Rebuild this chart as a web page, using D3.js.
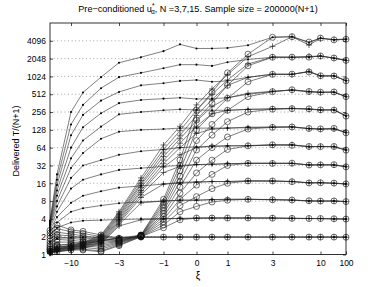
<!DOCTYPE html>
<html><head><meta charset="utf-8">
<script src="https://cdn.jsdelivr.net/npm/d3@7"></script>
<style>
body{margin:0;background:#fff;}
svg{display:block;font-family:"Liberation Sans",Arial,Helvetica,sans-serif;}
</style></head><body>
<svg id="c" width="382" height="287"></svg>
<script>
// ξ grid of the simulations
const xi = [-100,-20,-10,-7,-5,-3,-2,-1,-0.5,0,0.5,1,2,3,5,7,10,20,100];
const xTicks = [-10,-3,-1,0,1,3,10,100];
const yTicks = [1,2,4,8,16,32,64,128,256,512,1024,2048,4096];

// N=3 ('.' markers), one row per level
const dotSeries = [
 [1.62,1.87,1.93,1.96,1.97,1.97,1.97,1.97,1.97,1.97,1.97,1.97,1.97,1.97,1.97,1.97,1.97,1.97,1.96],
 [2.14,2.83,3.48,3.73,3.81,3.89,4,4.06,4.08,4.11,4.14,4.14,4.14,4.14,4.08,4.06,4.06,4.0,3.97],
 [2.46,3.48,5.28,6.06,6.73,7.36,7.73,8,8.28,8.28,8.46,8.57,8.57,8.46,8.34,8,8,8,7.84],
 [2.64,4.29,7.46,9.85,11.7,13.5,14.4,15.5,16,16.6,17.1,17.1,17.5,17.5,17.1,16.3,16.3,16,15.6],
 [2.83,5.28,13,18.4,22.6,26.9,28.8,30.9,32,33.1,33.1,34.3,34.8,34.8,34.8,32.7,32.7,32.7,30.5],
 [3.03,6.5,19.7,32,39.4,48.5,55.7,59.7,64,66.3,66.3,68.6,68.6,71,71,66.7,66.7,66.7,58.5],
 [3.14,8,29,52,90.5,119,128,132,137,137,137,137,142,142,142,134,132,134,115],
 [3.25,9.85,42.2,84.4,145,234,256,274,284,278,274,274,284,288,294,288,278,278,220],
 [3.36,12.1,64,142,244,362,410,431,446,425,431,446,512,568,605,568,553,553,468],
 [3.48,14.9,104,229,399,560,724,787,861,891,832,861,989,1113,1113,1235,1045,1045,867],
 [3.6,18.4,158,338,648,996,1176,1409,1618,1618,1541,1783,1978,2165,2165,2165,2273,2077,1911],
 [3.73,22.6,256,549,996,1746,2165,2740,3565,3040,3040,3104,3444,4705,4806,3822,4547,4240,4360]
];
// N=7 ('+' markers)
const plusSeries = [
 [1.07,1.23,1.37,1.52,1.68,1.93,1.97,1.97,1.97,1.97,1.97,1.97,1.97,1.97,1.97,1.97,1.97,1.97,1.96],
 [1.04,1.11,1.19,1.27,1.52,3.03,3.86,4,4.06,4.11,4.14,4.14,4.14,4.14,4.1,4.06,4.04,4.0,3.97],
 [1.06,1.13,1.21,1.30,1.57,3.2,7.46,8,8.28,8.28,8.46,8.57,8.57,8.5,8.3,8.05,8,8,7.84],
 [1.07,1.15,1.23,1.34,1.62,3.39,9.19,15.5,16.6,16.9,17.1,17.1,17.5,17.4,17.2,16.3,16.4,16,15.5],
 [1.09,1.17,1.26,1.37,1.68,3.58,10.2,24.3,30.9,33.1,33.8,34.3,34.8,35,34.5,32.7,33,32.5,30.5],
 [1.10,1.19,1.28,1.40,1.74,3.78,11.3,29.9,48.5,64,68.6,68.6,69.6,71,72,66,67,66,58.5],
 [1.12,1.21,1.30,1.41,1.80,4,12.1,34.3,64,111,132,137,139,143,145,134,131,132,116],
 [1.13,1.23,1.32,1.44,1.87,4.23,13.5,39.4,76.1,147,239,274,284,290,296,285,276,280,222],
 [1.15,1.25,1.35,1.47,1.93,4.47,14.9,45.3,90.5,181,315,446,530,575,600,560,550,556,465],
 [1.16,1.27,1.38,1.52,2.0,4.72,16,52,104,223,416,724,989,1120,1105,1250,1040,1050,870],
 [1.18,1.29,1.41,1.56,2.07,4.99,17.8,59.7,124,274,512,891,1663,2180,2150,2240,2250,2090,1900],
 [1.20,1.32,1.44,1.60,2.14,5.28,19.7,71,147,338,630,1097,2200,3300,4800,3470,4500,4300,4380]
];
// N=15 ('o' markers)
const circleSeries = [
 [1.23,1.41,1.52,1.62,1.74,1.87,1.97,1.97,1.97,1.97,1.97,1.97,1.97,1.97,1.97,1.97,1.97,1.97,1.96],
 [1.11,1.12,1.19,1.19,1.11,1.41,2,2.83,3.86,4.14,4.14,4.14,4.14,4.12,4.08,4.06,4.06,4.02,3.97],
 [1.15,1.23,1.27,1.23,1.15,1.46,2,3.16,5.28,6.5,7.73,8.28,8.57,8.4,8.34,8.1,8,8.05,7.84],
 [1.23,1.37,1.37,1.32,1.23,1.52,2.03,3.53,6.73,9.51,13,16,17.5,17.5,17,16.2,16.3,16.1,15.6],
 [1.32,1.46,1.46,1.41,1.32,1.57,2.03,3.95,8.57,14.9,22.6,32,34.8,34.6,35,32.5,32.7,33,30.3],
 [1.41,1.62,1.62,1.52,1.41,1.62,2.06,4.41,10.9,23.9,39.4,59.7,68.6,71.5,70,67,66.5,67,58],
 [1.52,1.80,1.74,1.65,1.52,1.65,2.06,4.92,13.9,39.4,64,97,132,141,143,135,133,136,114],
 [1.68,2,1.87,1.80,1.62,1.68,2.09,5.5,17.1,58.5,104,176,256,286,292,290,279,276,218],
 [1.87,2.14,2.07,1.93,1.74,1.72,2.09,6.15,21.1,84.4,158,274,465,565,610,570,555,560,466],
 [2.07,2.38,2.22,2.07,1.87,1.74,2.11,6.87,26,128,239,437,832,1110,1120,1220,1050,1040,865],
 [2.30,2.73,2.43,2.27,2,1.80,2.11,7.67,32,187,362,724,1552,2160,2170,2170,2270,2100,1915],
 [2.55,3.16,2.6,2.46,2.14,1.87,2.14,8.57,39.4,274,549,1176,2435,4700,4800,3900,4550,4250,4350]
];

const svg = d3.select('#c');
const L = 50, R = 346, T = 23, B = 254.5;
// piecewise-linear ξ axis (the original uses a compressed, non-uniform ξ axis)
const x = d3.scaleLinear().domain(xi)
  .range([50,57,71,83,101,119,141,163.5,180,196.5,212,227.5,248,272.5,292,309,320.5,334,346]);
const y = d3.scaleLog().base(2).domain([1,8192]).range([B,T]);

// grid (y only, dotted)
svg.append('g').selectAll('line').data(yTicks.slice(1)).join('line')
  .attr('x1',L).attr('x2',R).attr('y1',d=>y(d)).attr('y2',d=>y(d))
  .attr('stroke','#666').attr('stroke-width',0.6).attr('stroke-dasharray','1,2.6');

const fmt = d3.format('d');
function styleAxis(g, labels){
  g.select('.domain').remove();
  g.selectAll('.tick line').attr('stroke','#000').attr('stroke-width',0.7);
  g.selectAll('text').attr('fill','#000').style('font-size','8.5px');
  if(!labels) g.selectAll('text').remove();
}
svg.append('g').attr('transform',`translate(${L},0)`)
  .call(d3.axisLeft(y).tickValues(yTicks).tickFormat(fmt).tickSize(-3).tickPadding(4))
  .call(g=>styleAxis(g,true));
svg.append('g').attr('transform',`translate(${R},0)`)
  .call(d3.axisRight(y).tickValues(yTicks).tickSize(-3))
  .call(g=>styleAxis(g,false));
svg.append('g').attr('transform',`translate(0,${B})`)
  .call(d3.axisBottom(x).tickValues(xTicks).tickFormat(fmt).tickSize(-3).tickPadding(5))
  .call(g=>styleAxis(g,true));
svg.append('g').attr('transform',`translate(0,${T})`)
  .call(d3.axisTop(x).tickValues(xTicks).tickSize(-3))
  .call(g=>styleAxis(g,false));

const line = d3.line().x((d,i)=>x(xi[i])).y(d=>y(d));
const plot = svg.append('g');
const groups = [
  {data: dotSeries, mark:'dot'},
  {data: plusSeries, mark:'plus'},
  {data: circleSeries, mark:'circle'}
];
groups.forEach(gr=>{
  plot.append('g').selectAll('path').data(gr.data).join('path')
    .attr('d', line).attr('fill','none').attr('stroke','#2a2a2a').attr('stroke-width',0.6);
});
groups.forEach(gr=>{
  const pts = gr.data.flatMap(s=>s.map((v,i)=>({x:xi[i], v})));
  const g = plot.append('g');
  if(gr.mark==='dot'){
    g.selectAll('circle').data(pts).join('circle')
      .attr('cx',d=>x(d.x)).attr('cy',d=>y(d.v)).attr('r',1.05).attr('fill','#000');
  } else if(gr.mark==='plus'){
    g.selectAll('path').data(pts).join('path')
      .attr('d',d=>{const cx=x(d.x), cy=y(d.v), s=3;
        return `M${cx-s},${cy}H${cx+s}M${cx},${cy-s}V${cy+s}`;})
      .attr('stroke','#111').attr('stroke-width',0.6).attr('fill','none');
  } else {
    g.selectAll('circle').data(pts).join('circle')
      .attr('cx',d=>x(d.x)).attr('cy',d=>y(d.v)).attr('r',3)
      .attr('fill','none').attr('stroke','#111').attr('stroke-width',0.6);
  }
});

// box
svg.append('rect').attr('x',L).attr('y',T).attr('width',R-L).attr('height',B-T)
  .attr('fill','none').attr('stroke','#000').attr('stroke-width',0.8);

// title
const title = svg.append('text').attr('x',198).attr('y',11.5).attr('text-anchor','middle')
  .style('font-size','9.1px').attr('fill','#000');
title.append('tspan').text('Pre\u2212conditioned u');
title.append('tspan').attr('dy',-3.5).style('font-size','6.5px').text('*');
title.append('tspan').attr('dx',-3.5).attr('dy',6).style('font-size','6.5px').text('\u03b1');
title.append('tspan').attr('dy',-2.5).text(',  N =3,7,15. Sample size = 200000(N+1)');

// axis labels
svg.append('text').attr('x',198).attr('y',279).attr('text-anchor','middle')
  .style('font-size','10px').attr('fill','#000').text('\u03be');
svg.append('text').attr('transform','translate(19,141) rotate(-90)').attr('text-anchor','middle')
  .style('font-size','9px').attr('fill','#000').text('Delivered T/(N+1)');
</script>
</body></html>
